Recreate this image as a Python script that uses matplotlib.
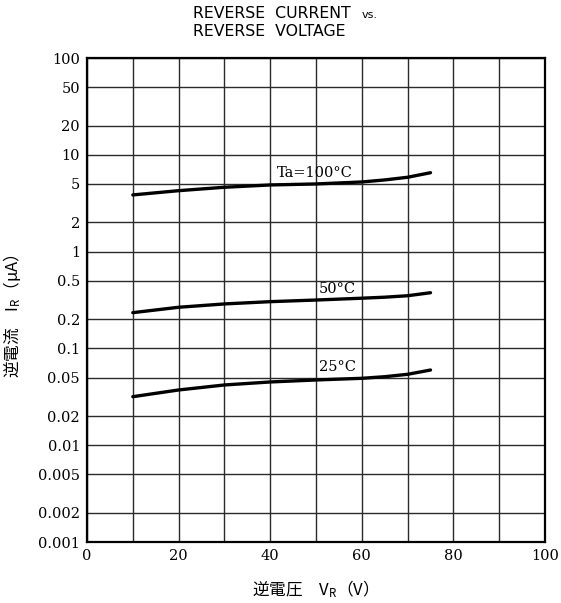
import matplotlib
matplotlib.use("Agg")
import matplotlib.pyplot as plt
from matplotlib.ticker import FixedLocator, FixedFormatter, NullLocator

# ---- data ----
vr = [10, 20, 30, 40, 50, 60, 65, 70, 75]
ir_100c = [3.85, 4.26, 4.62, 4.88, 5.0, 5.24, 5.50, 5.86, 6.53]
ir_50c = [0.234, 0.266, 0.288, 0.304, 0.316, 0.330, 0.338, 0.350, 0.376]
ir_25c = [0.0317, 0.0372, 0.0419, 0.045, 0.0472, 0.0491, 0.0510, 0.0540, 0.0598]

curve_labels = ["Ta=100°C", "50°C", "25°C"]
label_pos = [(49.8, 6.49), (54.6, 0.411), (54.8, 0.0643)]

x_grid = [0, 10, 20, 30, 40, 50, 60, 70, 80, 90, 100]
x_ticks = [0, 20, 40, 60, 80, 100]
x_ticklabels = ["0", "20", "40", "60", "80", "100"]
y_ticks = [0.001, 0.002, 0.005, 0.01, 0.02, 0.05, 0.1, 0.2, 0.5,
           1, 2, 5, 10, 20, 50, 100]
y_ticklabels = ["0.001", "0.002", "0.005", "0.01", "0.02", "0.05", "0.1",
                "0.2", "0.5", "1", "2", "5", "10", "20", "50", "100"]

# ---- figure ----
W, H = 561, 603
fig = plt.figure(figsize=(W / 100, H / 100), dpi=100)
L, R, T, B = 87, 545, 58, 542
ax = fig.add_axes([L / W, 1 - B / H, (R - L) / W, (B - T) / H])

ax.set_yscale("log")
ax.set_xlim(0, 100)
ax.set_ylim(0.001, 100)

ax.xaxis.set_major_locator(FixedLocator(x_ticks))
ax.xaxis.set_major_formatter(FixedFormatter(x_ticklabels))
ax.xaxis.set_minor_locator(NullLocator())
ax.yaxis.set_major_locator(FixedLocator(y_ticks))
ax.yaxis.set_major_formatter(FixedFormatter(y_ticklabels))
ax.yaxis.set_minor_locator(NullLocator())

gcol = "#2a2a2a"
for xv in x_grid:
    ax.axvline(xv, color=gcol, lw=1.0, zorder=1)
for yv in y_ticks:
    ax.axhline(yv, color=gcol, lw=1.0, zorder=1)

for sp in ax.spines.values():
    sp.set_linewidth(1.6)
    sp.set_color("black")

ax.tick_params(axis="both", length=0, labelsize=10.5, colors="black")
ax.tick_params(axis="y", pad=5)
ax.tick_params(axis="x", pad=5)
for lab in ax.get_xticklabels() + ax.get_yticklabels():
    lab.set_family("DejaVu Serif")

for ys in (ir_100c, ir_50c, ir_25c):
    ax.plot(vr, ys, color="black", lw=2.4, solid_capstyle="round",
            solid_joinstyle="round", zorder=3)

for txt, (xp, yp) in zip(curve_labels, label_pos):
    ax.text(xp, yp, txt, ha="center", va="center", fontsize=10.5,
            family="DejaVu Serif", color="black", zorder=4)

# axis labels
ax.set_ylabel("逆電流　$\\mathregular{I_R}$（μA）", family="Noto Sans CJK JP",
              fontsize=12)
ax.yaxis.set_label_coords((23 - L) / (R - L), (B - 316) / (B - T))
ax.set_xlabel("逆電圧　$\\mathregular{V_R}$（V）", family="Noto Sans CJK JP",
              fontsize=12)
ax.xaxis.set_label_coords((311 - L) / (R - L), -(578 - B) / (B - T))

# title
fig.text(193 / W, 1 - 13 / H, "REVERSE  CURRENT", ha="left", va="center",
         fontsize=11.3, family="DejaVu Sans")
fig.text(362 / W, 1 - 15 / H, "vs.", ha="left", va="center",
         fontsize=8, family="DejaVu Sans")
fig.text(193 / W, 1 - 32 / H, "REVERSE  VOLTAGE", ha="left", va="center",
         fontsize=11.3, family="DejaVu Sans")

fig.savefig("out.png", dpi=100)
